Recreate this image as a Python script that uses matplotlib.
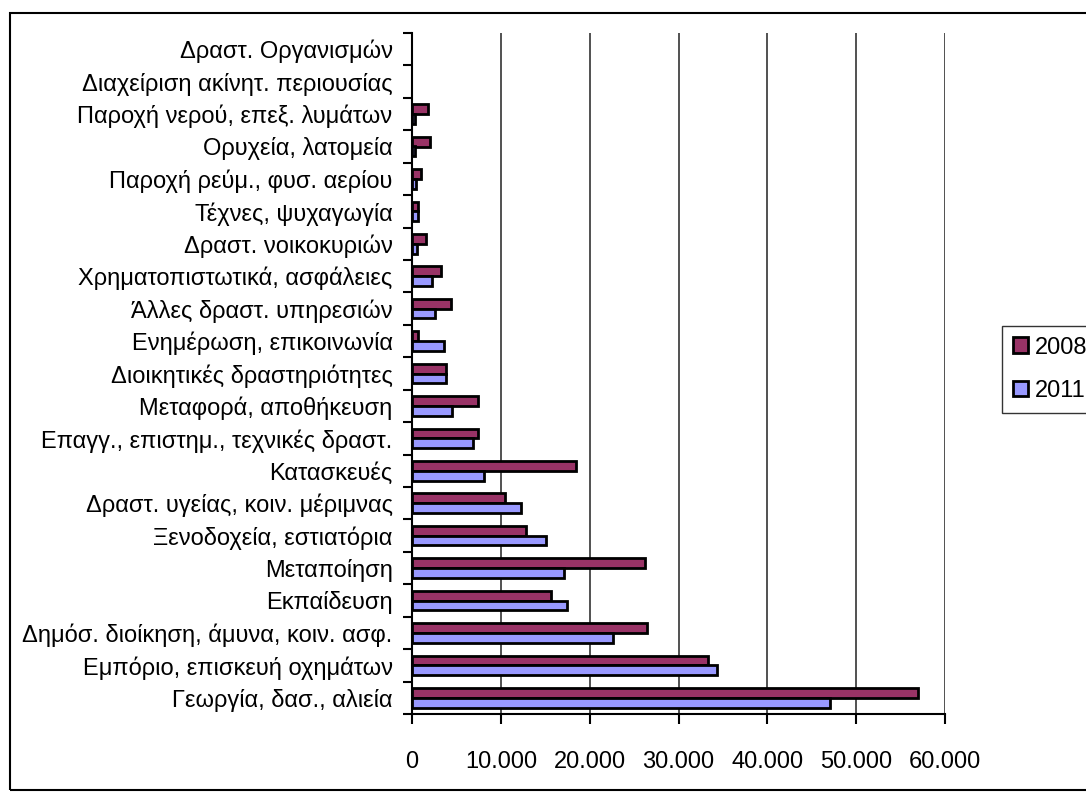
import matplotlib
matplotlib.use("Agg")
import matplotlib.pyplot as plt
from matplotlib.patches import Rectangle
from matplotlib.ticker import FuncFormatter
import numpy as np

plt.rcParams['font.family'] = ['Liberation Sans', 'DejaVu Sans']

# categories from bottom to top
categories = [
    "Γεωργία, δασ., αλιεία",
    "Εμπόριο, επισκευή οχημάτων",
    "Δημόσ. διοίκηση, άμυνα, κοιν. ασφ.",
    "Εκπαίδευση",
    "Μεταποίηση",
    "Ξενοδοχεία, εστιατόρια",
    "Δραστ. υγείας, κοιν. μέριμνας",
    "Κατασκευές",
    "Επαγγ., επιστημ., τεχνικές δραστ.",
    "Μεταφορά, αποθήκευση",
    "Διοικητικές δραστηριότητες",
    "Ενημέρωση, επικοινωνία",
    "Άλλες δραστ. υπηρεσιών",
    "Χρηματοπιστωτικά, ασφάλειες",
    "Δραστ. νοικοκυριών",
    "Τέχνες, ψυχαγωγία",
    "Παροχή ρεύμ., φυσ. αερίου",
    "Ορυχεία, λατομεία",
    "Παροχή νερού, επεξ. λυμάτων",
    "Διαχείριση ακίνητ. περιουσίας",
    "Δραστ. Οργανισμών",
]
v2008 = [57000, 33300, 26400, 15700, 26200, 12800, 10500, 18500, 7400, 7400,
         3800, 700, 4400, 3300, 1600, 640, 1000, 2000, 1800, 0, 0]
v2011 = [47100, 34300, 22650, 17400, 17100, 15100, 12300, 8100, 6900, 4500,
         3800, 3600, 2600, 2300, 600, 640, 450, 300, 300, 0, 0]
xticks = [0, 10000, 20000, 30000, 40000, 50000, 60000]

W, H = 1086, 793
fig = plt.figure(figsize=(W / 100, H / 100), dpi=100)
ax = fig.add_axes([412 / W, 1 - 714 / H, (945 - 412) / W, (714 - 33) / H])

y = np.arange(len(categories))
h = 0.3
ec08 = ['black' if v > 0 else 'none' for v in v2008]
ec11 = ['black' if v > 0 else 'none' for v in v2011]
ax.barh(y + h / 2, v2008, height=h, color='#993366', edgecolor=ec08,
        linewidth=2, label='2008', zorder=3)
ax.barh(y - h / 2, v2011, height=h, color='#9999FF', edgecolor=ec11,
        linewidth=2, label='2011', zorder=3)

ax.set_xlim(0, 60000)
ax.set_ylim(-0.5, len(categories) - 0.5)
ax.set_xticks(xticks)
ax.xaxis.set_major_formatter(FuncFormatter(lambda v, p: f"{int(v):,}".replace(",", ".")))
ax.grid(axis='x', color='#333333', linewidth=1.2, zorder=0)

ax.set_yticks(y)
ax.set_yticklabels(categories)
ax.set_yticks(np.arange(-0.5, len(categories)), minor=True)
ax.tick_params(axis='y', which='major', length=0, pad=14, labelsize=17)
ax.tick_params(axis='y', which='minor', length=6.5, width=1.5, direction='out')
ax.tick_params(axis='x', length=7, width=1.5, direction='out', pad=20, labelsize=17)

for s in ['top', 'right']:
    ax.spines[s].set_visible(False)
for s in ['left', 'bottom']:
    ax.spines[s].set_linewidth(1.5)

fig.legend(loc='upper left', bbox_to_anchor=(1002 / W, 1 - 326 / H),
           fontsize=17, frameon=True, fancybox=False, edgecolor='black',
           handlelength=0.65, handleheight=0.65, handletextpad=0.3,
           borderpad=0.45, labelspacing=0.9, borderaxespad=0)

fig.patches.append(Rectangle((10 / W, 3 / H), 1.0, 1 - 16 / H,
                             transform=fig.transFigure, fill=False,
                             edgecolor='black', linewidth=1.5))

fig.savefig("out.png", dpi=100)
